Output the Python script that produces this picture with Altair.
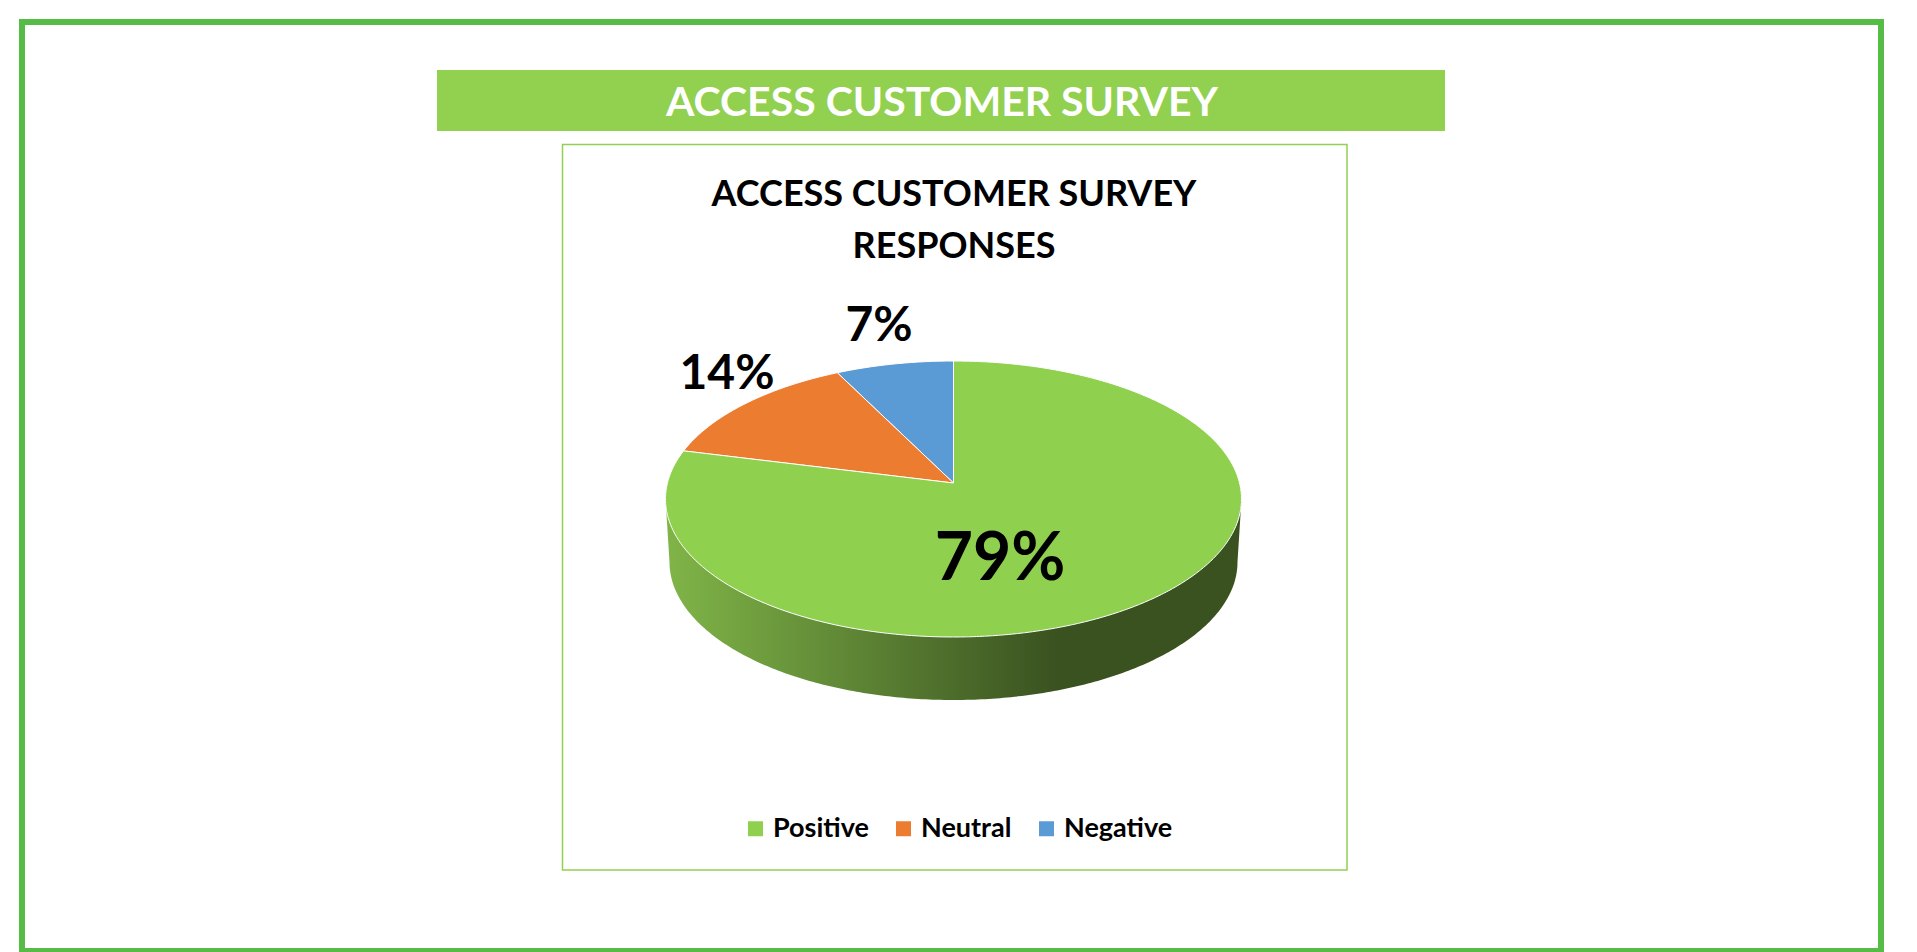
import numpy as np
import pandas as pd
import altair as alt

# ---- data ----
categories = ["Positive", "Neutral", "Negative"]
shares = [78.9, 13.7, 7.4]
colors = ["#90D04F", "#EB7C30", "#5B9BD5"]
banner_title = "ACCESS CUSTOMER SURVEY"
chart_title = ["ACCESS CUSTOMER SURVEY", "RESPONSES"]

# ---- layout (page pixels minus the 8 px page margin) ----
W, H = 1901, 944
OX, OY = 8, 8
CX, CY, RX, RY = 953.5 - OX, 499 - OY, 288, 138
APEX = 16 / RY           # wedge apex sits above the ellipse centre (perspective)
DEPTH = 63 / RY          # pie thickness
BOTTOM_RX = 284 / RX
K = np.sqrt((1 - APEX) / (1 + APEX))
FONT = "Lato"


def persp(theta):
    """True angle of the pie -> parameter on the tilted ellipse."""
    return 2 * np.arctan2(K * np.sin(theta / 2), np.cos(theta / 2))


def wedge(start, end):
    th = np.linspace(start, end, max(3, int(abs(end - start) * 40)))
    t = persp(th)
    pts = np.column_stack([-np.sin(t), np.cos(t)])
    return np.vstack([[0, APEX], pts])


def envelope(poly):
    eps = 1e-5
    xs = np.unique(np.concatenate([poly[:, 0] - eps, poly[:, 0], poly[:, 0] + eps]))
    a, b = poly, np.roll(poly, -1, axis=0)
    rows = []
    for x in xs:
        lo = np.minimum(a[:, 0], b[:, 0]) <= x
        hi = np.maximum(a[:, 0], b[:, 0]) >= x
        nz = a[:, 0] != b[:, 0]
        m = lo & hi & nz
        if not m.any():
            continue
        ys = a[m, 1] + (x - a[m, 0]) / (b[m, 0] - a[m, 0]) * (b[m, 1] - a[m, 1])
        rows.append((x, ys.min(), ys.max()))
    return rows


# slices run counter-clockwise from 12 o'clock: Negative, Neutral, Positive
rows = []
cum = 0.0
total = sum(shares)
for cat, val in reversed(list(zip(categories, shares))):
    s, e = cum / total * 2 * np.pi, (cum + val) / total * 2 * np.pi
    cum += val
    for x, lo, hi in envelope(wedge(s, e)):
        rows.append({"category": cat, "u": x, "v": lo, "v2": hi})
face = pd.DataFrame(rows)

# the pie's wall: lower half of the bottom rim, joined to the widest points of the top rim
phi = np.linspace(0, np.pi, 240)
side = pd.DataFrame({
    "u": np.concatenate([[1.0], BOTTOM_RX * np.cos(phi), [-1.0]]),
    "v": np.concatenate([[0.0], -DEPTH - np.sin(phi), [0.0]]),
    "v2": np.zeros(len(phi) + 2),
})

xs = alt.Scale(domain=[-CX / RX, (W - CX) / RX], nice=False, zero=False)
ys = alt.Scale(domain=[(CY - H) / RY, CY / RY], nice=False, zero=False)
one = pd.DataFrame({"k": [0]})


def box(x, x2, y, y2, **mark):
    return alt.Chart(one).mark_rect(**mark).encode(
        x=alt.value(x - OX), x2=alt.value(x2 - OX),
        y=alt.value(y - OY), y2=alt.value(y2 - OY))


def label(text, x, y, size, color="black", weight="bold"):
    return alt.Chart(pd.DataFrame({"t": [text]})).mark_text(
        font=FONT, fontSize=size, fontWeight=weight, color=color,
        align="center", baseline="alphabetic"
    ).encode(text="t:N", x=alt.value(x - OX), y=alt.value(y - OY))


outer = box(22, 1881, 22, 951, fill="transparent", stroke="#55BC46", strokeWidth=6)
banner = box(437, 1445, 70, 131, fill="#92D050")
frame = box(562.5, 1347, 144.5, 870, fill="transparent", stroke="#92D050", strokeWidth=1.5)

side_mark = alt.Chart(side).mark_area(
    color=alt.Gradient(
        gradient="linear", x1=0, x2=1, y1=0, y2=0,
        stops=[
            alt.GradientStop(color="#80B548", offset=0),
            alt.GradientStop(color="#3A5220", offset=0.68),
            alt.GradientStop(color="#3A5220", offset=1),
        ],
    )
).encode(
    x=alt.X("u:Q", scale=xs, axis=None),
    y=alt.Y("v:Q", scale=ys, axis=None),
    y2="v2:Q",
)

face_mark = alt.Chart(face).mark_area(stroke="white", strokeWidth=1).encode(
    x=alt.X("u:Q", scale=xs, axis=None),
    y=alt.Y("v:Q", scale=ys, axis=None),
    y2="v2:Q",
    color=alt.Color(
        "category:N",
        scale=alt.Scale(domain=categories, range=colors),
        legend=alt.Legend(
            title=None, orient="none", direction="horizontal",
            legendX=742 - OX, legendY=815 - OY,
            symbolType="square", symbolSize=225, symbolStrokeWidth=0,
            labelFont=FONT, labelFontSize=27, labelFontWeight="bold",
            labelColor="black", labelOffset=4, columnPadding=21,
            labelLimit=200,
        ),
    ),
)

pct = [f"{round(v)}%" for v in shares]
chart = alt.layer(
    outer, banner, frame, side_mark, face_mark,
    label(banner_title, 942, 116, 41, color="white"),
    label(chart_title[0], 954, 206, 36),
    label(chart_title[1], 954, 258, 36),
    label(pct[0], 1000, 580, 66),
    label(pct[1], 727, 389, 48),
    label(pct[2], 879, 341, 48),
).resolve_scale(x="shared", y="shared").properties(
    width=W, height=H, padding=0,
    autosize=alt.AutoSizeParams(type="none"),
    background="white",
).configure_view(strokeWidth=0)

chart.save("out.html", embed_options={"renderer": "svg", "actions": False})
